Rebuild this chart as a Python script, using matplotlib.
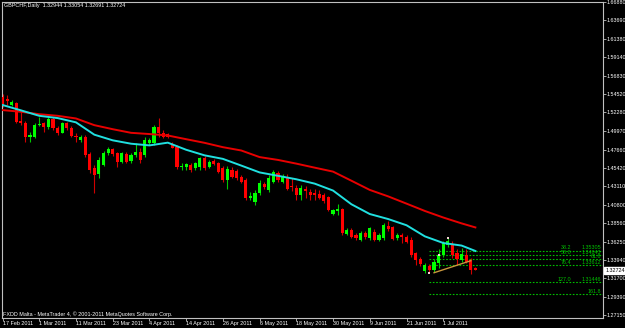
import matplotlib
matplotlib.use("Agg")
import matplotlib.pyplot as plt
import matplotlib.transforms as mtransforms
import numpy as np

plt.rcParams['font.family'] = ['Liberation Sans', 'DejaVu Sans']

# GBPCHF daily candles, 17 Feb 2011 .. 12 Jul 2011
opens = [1.5423, 1.5394, 1.5320, 1.5345, 1.5125, 1.5101, 1.4920, 1.4927, 1.5072, 1.5093,
         1.5051, 1.5143, 1.5031, 1.4977, 1.5093, 1.5039, 1.4936, 1.4886, 1.4927, 1.4712,
         1.4535, 1.4464, 1.4576, 1.4721, 1.4771, 1.4729, 1.4617, 1.4712, 1.4629, 1.4700,
         1.4741, 1.4700, 1.4849, 1.4845, 1.5051, 1.4977, 1.4960, 1.4824, 1.4803, 1.4547,
         1.4547, 1.4576, 1.4535, 1.4547, 1.4667, 1.4555, 1.4626, 1.4604, 1.4535, 1.4390,
         1.4514, 1.4505, 1.4431, 1.4390, 1.4163, 1.4121, 1.4225, 1.4340, 1.4266, 1.4369,
         1.4481, 1.4369, 1.4431, 1.4316, 1.4287, 1.4204, 1.4275, 1.4245, 1.4225, 1.4216,
         1.4204, 1.4175, 1.3965, 1.4009, 1.4027, 1.3720, 1.3770, 1.3708, 1.3646, 1.3729,
         1.3667, 1.3749, 1.3646, 1.3667, 1.3820, 1.3803, 1.3667, 1.3708, 1.3687, 1.3646,
         1.3481, 1.3407, 1.3265, 1.3324, 1.3274, 1.3357, 1.3460, 1.3584, 1.3584, 1.3481,
         1.3398, 1.3460, 1.3398, 1.32944]
highs = [1.5456, 1.5444, 1.5388, 1.5357, 1.5237, 1.5122, 1.4989, 1.5101, 1.5175, 1.5113,
         1.5167, 1.5167, 1.5060, 1.5113, 1.5113, 1.5060, 1.4969, 1.4948, 1.4948, 1.4737,
         1.4576, 1.4672, 1.4753, 1.4803, 1.4783, 1.4741, 1.4741, 1.4741, 1.4721, 1.4852,
         1.4783, 1.4920, 1.4907, 1.5072, 1.5163, 1.5010, 1.4977, 1.4865, 1.4824, 1.4604,
         1.4604, 1.4597, 1.4617, 1.4679, 1.4688, 1.4638, 1.4647, 1.4613, 1.4564, 1.4564,
         1.4555, 1.4523, 1.4452, 1.4411, 1.4245, 1.4266, 1.4390, 1.4365, 1.4452, 1.4514,
         1.4502, 1.4461, 1.4464, 1.4411, 1.4328, 1.4328, 1.4316, 1.4275, 1.4275, 1.4266,
         1.4225, 1.4192, 1.4034, 1.4092, 1.4039, 1.3791, 1.3791, 1.3729, 1.3758, 1.3758,
         1.3811, 1.3782, 1.3733, 1.3853, 1.3885, 1.3820, 1.3729, 1.3729, 1.3708, 1.3679,
         1.3501, 1.3431, 1.3357, 1.3348, 1.3407, 1.3531, 1.3637, 1.3673, 1.3637, 1.3531,
         1.3543, 1.3531, 1.3419, 1.33054]
lows = [1.5295, 1.5320, 1.5308, 1.5093, 1.5072, 1.4865, 1.4865, 1.4907, 1.5060, 1.4989,
        1.5019, 1.5010, 1.4948, 1.4969, 1.5010, 1.4920, 1.4865, 1.4865, 1.4679, 1.4473,
        1.4229, 1.4411, 1.4564, 1.4700, 1.4688, 1.4555, 1.4597, 1.4597, 1.4604, 1.4679,
        1.4597, 1.4679, 1.4824, 1.4824, 1.4927, 1.4907, 1.4907, 1.4783, 1.4523, 1.4514,
        1.4514, 1.4493, 1.4514, 1.4514, 1.4514, 1.4535, 1.4576, 1.4473, 1.4369, 1.4275,
        1.4411, 1.4390, 1.4349, 1.4142, 1.4142, 1.4080, 1.4204, 1.4278, 1.4241, 1.4349,
        1.4369, 1.4349, 1.4266, 1.4257, 1.4142, 1.4142, 1.4163, 1.4142, 1.4142, 1.4151,
        1.4109, 1.4006, 1.3956, 1.3956, 1.3708, 1.3708, 1.3667, 1.3646, 1.3634, 1.3658,
        1.3646, 1.3634, 1.3634, 1.3646, 1.3761, 1.3646, 1.3646, 1.3605, 1.3609, 1.3431,
        1.3336, 1.3327, 1.3240, 1.3245, 1.3249, 1.3295, 1.3439, 1.3563, 1.3419, 1.3336,
        1.3377, 1.3357, 1.3224, 1.32691]
closes = [1.5320, 1.5370, 1.5361, 1.5113, 1.5093, 1.4920, 1.4948, 1.5072, 1.5084, 1.5051,
          1.5143, 1.5031, 1.4969, 1.5101, 1.5031, 1.4936, 1.4920, 1.4927, 1.4700, 1.4514,
          1.4452, 1.4638, 1.4729, 1.4771, 1.4712, 1.4617, 1.4729, 1.4617, 1.4700, 1.4741,
          1.4638, 1.4886, 1.4886, 1.5051, 1.4969, 1.4927, 1.4927, 1.4791, 1.4547, 1.4564,
          1.4585, 1.4514, 1.4597, 1.4659, 1.4535, 1.4617, 1.4588, 1.4493, 1.4390, 1.4523,
          1.4431, 1.4411, 1.4369, 1.4163, 1.4192, 1.4233, 1.4349, 1.4299, 1.4415, 1.4493,
          1.4390, 1.4440, 1.4275, 1.4299, 1.4204, 1.4287, 1.4257, 1.4204, 1.4204, 1.4163,
          1.4130, 1.4018, 1.4018, 1.4027, 1.3729, 1.3770, 1.3687, 1.3667, 1.3729, 1.3679,
          1.3791, 1.3646, 1.3708, 1.3832, 1.3779, 1.3655, 1.3708, 1.3679, 1.3625, 1.3460,
          1.3398, 1.3348, 1.3336, 1.3274, 1.3377, 1.3460, 1.3613, 1.3637, 1.3460, 1.3407,
          1.3472, 1.3377, 1.3274, 1.32724]

# moving averages, sampled every few bars
ma_bars = [0, 4, 8, 12, 16, 20, 24, 28, 32, 36, 40, 44, 48, 52, 56, 60, 64, 68, 72, 76,
           80, 84, 88, 92, 96, 100, 103]
ma_fast = [1.5320, 1.5254, 1.5186, 1.5158, 1.5105, 1.4952, 1.4882, 1.4840, 1.4819, 1.4853,
           1.4765, 1.4696, 1.4652, 1.4569, 1.4484, 1.4442, 1.4399, 1.4345, 1.4259, 1.4089,
           1.3968, 1.3906, 1.3829, 1.3691, 1.3609, 1.3577, 1.3510]
ma_slow = [1.5257, 1.5236, 1.5206, 1.5186, 1.5153, 1.5070, 1.5020, 1.4975, 1.4960, 1.4942,
           1.4896, 1.4851, 1.4797, 1.4756, 1.4674, 1.4639, 1.4593, 1.4543, 1.4494, 1.4381,
           1.4267, 1.4187, 1.4097, 1.4006, 1.3925, 1.3852, 1.3802]

# fibonacci object
fib_start_bar = 93
fib_prices = [1.3510, 1.3460, 1.3407, 1.3336, 1.3122, 1.2973]
fib_level_text = ['38.2', '50.0', '', '76.4', '127.0', '']
fib_price_text = ['1.35305', '1.34843', '61.8', '1.33612', '1.31446', '161.8']
fib_line_bars = [94, 102]
fib_line_prices = [1.3240, 1.3389]

# fractal marks
mark_bars = [93, 95, 97]
mark_prices = [1.3233, 1.3460, 1.3671]

date_bars = [0, 8, 16, 24, 32, 40, 48, 56, 64, 72, 80, 88, 96]
date_labels = ['17 Feb 2011', '1 Mar 2011', '11 Mar 2011', '23 Mar 2011', '4 Apr 2011',
               '14 Apr 2011', '26 Apr 2011', '6 May 2011', '18 May 2011', '30 May 2011',
               '9 Jun 2011', '21 Jun 2011', '1 Jul 2011']
price_ticks = [1.27150, 1.29390, 1.31700, 1.33940, 1.36250, 1.38560, 1.40800, 1.43110,
               1.45420, 1.47660, 1.49970, 1.52280, 1.54520, 1.56830, 1.59140, 1.61380,
               1.63690]
top_label = '1.66880'
last_price = 1.32724

header = 'GBPCHF,Daily  1.32944 1.33054 1.32691 1.32724'
footer = 'FXDD Malta - MetaTrader 4, \u00a9 2001-2011 MetaQuotes Software Corp.'

FS = 3.9
W, H = 625, 328
fig = plt.figure(figsize=(W / 100, H / 100), dpi=100, facecolor='black')
ax = fig.add_axes([2 / W, 10 / H, 601 / W, 316 / H])
ax.set_facecolor('black')
y_lo, y_hi = 1.26788, 1.65972
ax.set_xlim(-0.11, 130.8)
ax.set_ylim(y_lo, y_hi)

o = np.array(opens)
c = np.array(closes)
x = np.arange(len(o))
up = c >= o
body_col = np.where(up, '#00ff00', '#ff0000')
wick_col = np.where(up, '#00c800', '#d00000')
ax.vlines(x, lows, highs, colors=wick_col, lw=0.8, zorder=2)
ax.bar(x, np.maximum(np.abs(c - o), 0.0004), bottom=np.minimum(o, c), width=0.68,
       color=body_col, linewidth=0, zorder=3)

ax.plot(ma_bars, ma_slow, color='#e80000', lw=1.4, zorder=4)
ax.plot(ma_bars, ma_fast, color='#20e0e0', lw=1.4, zorder=5)

# fibo
fib_green = '#00c000'
trans = mtransforms.blended_transform_factory(ax.transAxes, ax.transData)
for p, lt, pt in zip(fib_prices, fib_level_text, fib_price_text):
    ax.hlines(p, fib_start_bar, ax.get_xlim()[1], colors=fib_green, lw=0.8,
              linestyles=(0, (1.5, 1.5)), zorder=1)
    if lt:
        ax.text(0.947, p + 0.0006, lt, transform=trans, color=fib_green, fontsize=FS,
                ha='right', va='bottom')
    ax.text(0.997, p + 0.0006, pt, transform=trans, color=fib_green, fontsize=FS,
            ha='right', va='bottom')
ax.plot(fib_line_bars, fib_line_prices, color='#c8963c', lw=1.0, zorder=6)
ax.scatter(mark_bars, mark_prices, marker='s', s=4, color='#f4d4d4', linewidths=0, zorder=7)

for s in ax.spines.values():
    s.set_color('#c0c0c0')
    s.set_linewidth(0.8)

ax.yaxis.tick_right()
ax.set_yticks(price_ticks + [y_hi], [f'{v:.5f}' for v in price_ticks] + [top_label])
ax.set_xticks(date_bars, date_labels)
ax.tick_params(axis='both', colors='#c0c0c0', labelcolor='white', labelsize=FS,
               direction='out', length=1.8, width=0.6)
ax.tick_params(axis='y', pad=0.6)
ax.tick_params(axis='x', pad=0.4)
for lab in ax.get_xticklabels():
    lab.set_ha('left')

# current price box
ax.text(1.0035, last_price, f'{last_price:.5f}', transform=trans, color='black',
        fontsize=FS, ha='left', va='center',
        bbox=dict(boxstyle='square,pad=0.2', facecolor='white', edgecolor='white'))

fig.text(4 / W, 1 - 6 / H, header, color='white', fontsize=FS, ha='left', va='center')
fig.text(3 / W, 1 - 314 / H, footer, color='white', fontsize=FS, ha='left', va='center')

fig.savefig('out.png', dpi=100, facecolor='black')
